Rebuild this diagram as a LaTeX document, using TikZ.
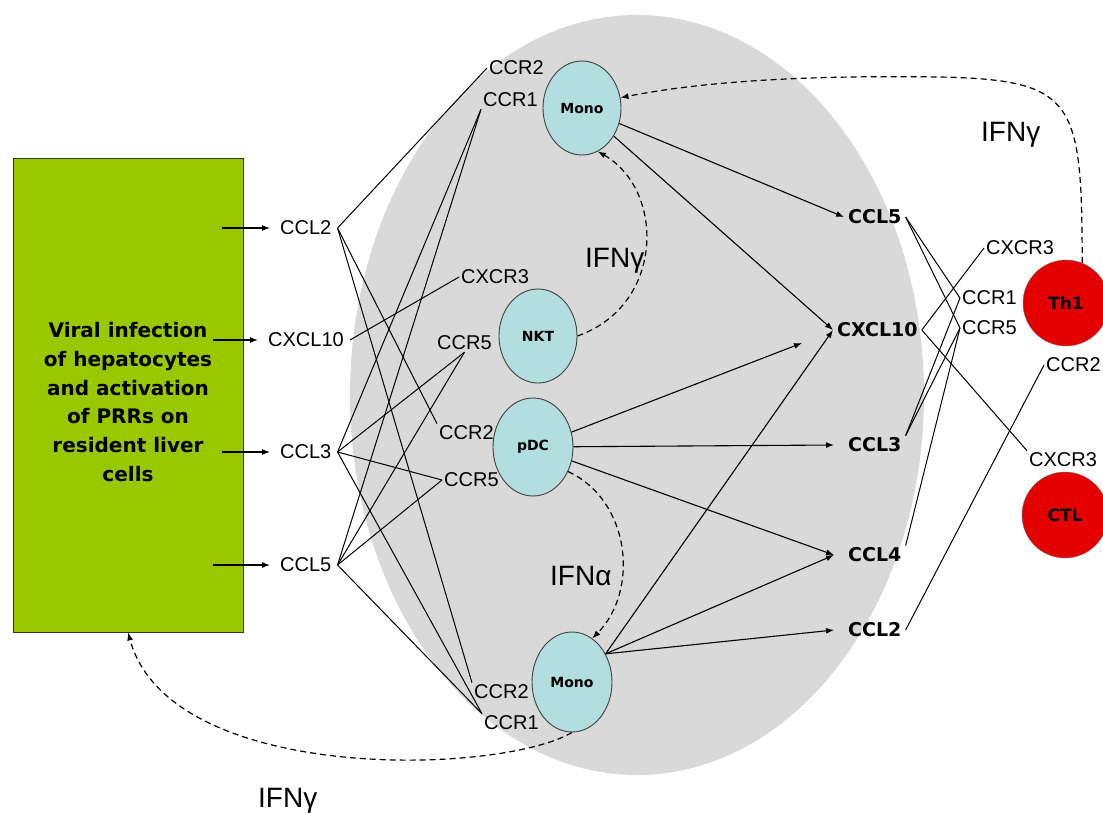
\documentclass[tikz,border=0pt]{standalone}
\usepackage{fontspec}
\setmainfont{Liberation Sans}
\newfontfamily\pixfont{DejaVu Sans}
\usetikzlibrary{positioning,arrows.meta,shapes.geometric}

\definecolor{infect}{RGB}{153,200,0}
\definecolor{liver}{RGB}{217,217,217}
\definecolor{cellblue}{RGB}{178,222,224}
\definecolor{tred}{RGB}{228,0,0}

\begin{document}
\begin{tikzpicture}[x=1pt, y=-1pt,
  font=\fontsize{20}{20}\selectfont,
  lbl/.style={inner sep=2pt},
  lchem/.style={inner xsep=6pt, inner ysep=2pt},
  bchem/.style={inner xsep=4pt, inner ysep=2pt, font=\pixfont\bfseries\fontsize{19}{19}\selectfont},
  cell/.style={ellipse, draw=black!75, line width=0.9pt, fill=cellblue, minimum width=78pt, minimum height=94pt, inner sep=0pt, font=\pixfont\bfseries\fontsize{14}{14}\selectfont},
  tcell/.style={circle, draw=black!55, fill=tred, minimum size=86pt, inner sep=0pt, font=\pixfont\bfseries\fontsize{17}{17}\selectfont},
  bind/.style={line width=1pt},
  secr/.style={-{Latex[length=8pt,width=6pt]}, line width=1.1pt},
  ifn/.style={-{Latex[length=8pt,width=6pt]}, line width=1.2pt, dash pattern=on 6pt off 4pt},
  ifnlab/.style={inner sep=0pt, anchor=base west, font=\fontsize{28}{28}\selectfont}]
\useasboundingbox (0,0) rectangle (1103,812);
% liver
\node[ellipse, fill=liver, minimum width=574pt, minimum height=760pt, inner sep=0pt] (liver) at (637,395) {};
\node[draw=black!80, line width=0.9pt, fill=infect, minimum width=230pt, minimum height=474pt, align=center,
      font=\pixfont\bfseries\fontsize{20}{28.7}\selectfont] (virus) at (128,395)
      {\rule{0pt}{29pt}Viral infection\\of hepatocytes\\and activation\\of PRRs on\\resident liver\\cells};
% chemokines from infected liver
\node[lchem, anchor=west] (ccl2l) at (274,228) {CCL2};
\node[lchem, anchor=west] (cxcl10l) at (262,340) {CXCL10};
\node[lchem, anchor=west] (ccl3l) at (274,452) {CCL3};
\node[lchem, anchor=west] (ccl5l) at (274,565) {CCL5};
\draw[secr, shorten <=-21pt, shorten >=4pt] (virus.east |- ccl2l.west) -- (ccl2l.west);
\draw[secr, shorten <=-30pt, shorten >=4pt] (virus.east |- cxcl10l.west) -- (cxcl10l.west);
\draw[secr, shorten <=-21pt, shorten >=4pt] (virus.east |- ccl3l.west) -- (ccl3l.west);
\draw[secr, shorten <=-30pt, shorten >=4pt] (virus.east |- ccl5l.west) -- (ccl5l.west);
% recruited cells
\node[cell] (mono1) at (582,108) {Mono};
\node[cell] (nkt) at (538,336) {NKT};
\node[cell, minimum width=80pt, minimum height=98pt] (pdc) at (533,447) {pDC};
\node[cell, minimum width=80pt, minimum height=100pt] (mono2) at (572,682) {Mono};
\node[lbl, anchor=west] (ccr2a) at (487,68) {CCR2};
\node[lbl, anchor=west] (ccr1a) at (481,100) {CCR1};
\node[lbl, anchor=west] (cxcr3a) at (459,277) {CXCR3};
\node[lbl, anchor=west] (ccr5a) at (435,343) {CCR5};
\node[lbl, anchor=west] (ccr2b) at (437,433) {CCR2};
\node[lbl, anchor=west] (ccr5b) at (442,480) {CCR5};
\node[lbl, anchor=west] (ccr2c) at (472,692) {CCR2};
\node[lbl, anchor=west] (ccr1c) at (482,723) {CCR1};
\draw[bind] (ccl2l.east) -- (ccr2a.west);
\draw[bind] (ccl2l.east) -- (ccr2b.north west);
\draw[bind] (ccl2l.east) -- (ccr2c.north west);
\draw[bind] (cxcl10l.east) -- (cxcr3a.west);
\draw[bind] (ccl3l.east) -- (ccr1a.south west);
\draw[bind] (ccl3l.east) -- (ccr5a.south);
\draw[bind] (ccl3l.east) -- (ccr5b.west);
\draw[bind] (ccl3l.east) -- (ccr1c.north west);
\draw[bind] (ccl5l.east) -- (ccr1a.south west);
\draw[bind] (ccl5l.east) -- (ccr5a.south);
\draw[bind] (ccl5l.east) -- (ccr5b.west);
\draw[bind] (ccl5l.east) -- (ccr1c.north west);
% chemokines made by the recruited cells
\node[bchem, anchor=west] (ccl5r) at (844,217) {CCL5};
\node[bchem, anchor=west] (cxcl10r) at (833,330) {CXCL10};
\node[bchem, anchor=west] (ccl3r) at (844,445) {CCL3};
\node[bchem, anchor=west] (ccl4r) at (844,555) {CCL4};
\node[bchem, anchor=west] (ccl2r) at (844,630) {CCL2};
\coordinate (cxcl10gap) at (802,343);
\draw[secr] (mono1) -- (ccl5r.west);
\draw[secr] (mono1) -- (cxcl10r.west);
\draw[secr] (pdc) -- (cxcl10gap);
\draw[secr] (pdc) -- ([xshift=-10pt]ccl3r.west);
\draw[secr] (pdc) -- ([xshift=-10pt]ccl4r.west);
\draw[secr] (mono2.40) -- (cxcl10r.west);
\draw[secr] (mono2.40) -- ([xshift=-10pt]ccl4r.west);
\draw[secr] (mono2.40) -- ([xshift=-10pt]ccl2r.west);
% T cells
\node[tcell] (th1) at (1066,303) {Th1};
\node[tcell] (ctl) at (1065,515) {CTL};
\node[lbl, anchor=west] (cxcr3t) at (984,248) {CXCR3};
\node[lbl, anchor=west] (ccr1t) at (960,298) {CCR1};
\node[lbl, anchor=west] (ccr5t) at (960,328) {CCR5};
\node[lbl, anchor=west] (ccr2t) at (1044,365) {CCR2};
\node[lbl, anchor=west] (cxcr3c) at (1027,460) {CXCR3};
\draw[bind] (ccl5r.east) -- (ccr1t.west);
\draw[bind] (ccl5r.east) -- (ccr5t.west);
\draw[bind] (cxcl10r.east) -- (cxcr3t.west);
\draw[bind] (cxcl10r.east) -- (cxcr3c.north west);
\draw[bind] (ccl3r.north east) -- (ccr1t.west);
\draw[bind] (ccl3r.north east) -- (ccr5t.west);
\draw[bind] (ccl4r.north east) -- (ccr5t.west);
\draw[bind] (ccl2r.east) -- (ccr2t.west);
% interferons
\coordinate (ifntop) at (940,77);
\draw[ifn] (th1.68) .. controls (1082,100) and (1075,80) .. (ifntop)
  .. controls (800,75) and (700,82) .. (mono1.15);
\draw[ifn] (nkt.east) .. controls (665,305) and (665,190) .. (mono1.-70);
\draw[ifn] (pdc.-35) .. controls (630,500) and (640,590) .. (mono2.65);
\draw[ifn] (mono2.-90) .. controls (500,775) and (170,785) .. (virus.south);
\node[ifnlab] (ifnth1) at (981,141) {IFNγ};
\node[ifnlab] (ifnnkt) at (585,267) {IFNγ};
\node[ifnlab] (ifnpdc) at (550,585) {IFNα};
\node[ifnlab] (ifnmono) at (258,807) {IFNγ};
\end{tikzpicture}
\end{document}
